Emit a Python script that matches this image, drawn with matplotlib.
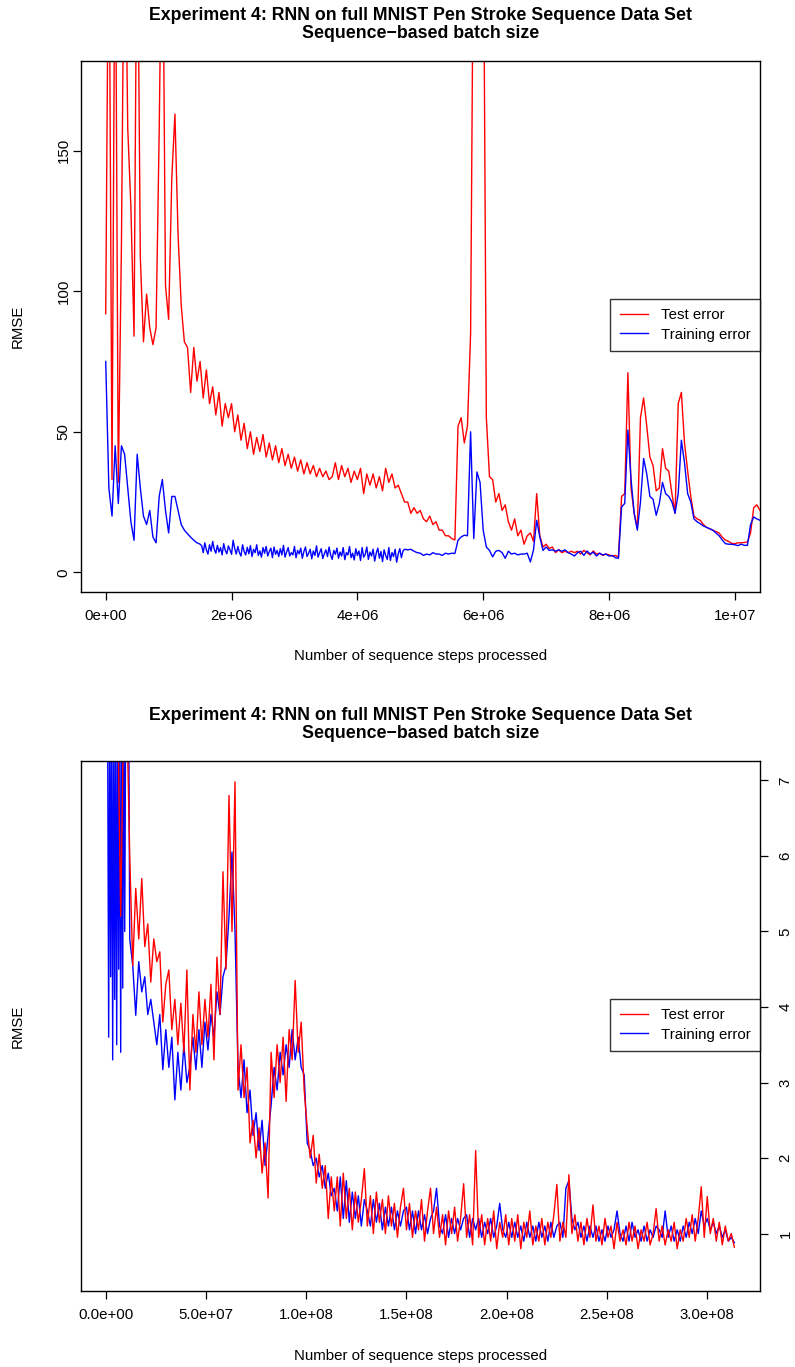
import numpy as np
import matplotlib
matplotlib.use("Agg")
import matplotlib.pyplot as plt
from matplotlib.lines import Line2D

plt.rcParams['font.family'] = ['Liberation Sans', 'DejaVu Sans']

TITLE_1 = "Experiment 4: RNN on full MNIST Pen Stroke Sequence Data Set"
TITLE_2 = "Sequence\u2212based batch size"
XLABEL = "Number of sequence steps processed"
YLABEL = "RMSE"
LEGEND = ["Test error", "Training error"]

# ---------------- top panel (steps up to ~1.04e7) ----------------
# test error: 0 .. 1.04e7, evenly spaced samples
top_test = [
    92, 250, 33, 250, 32, 117, 250, 158, 130, 84,
    250, 112, 82, 99, 87, 81, 87, 157, 250, 102,
    90, 140, 163, 120, 95, 82, 80, 64, 80, 68,
    75, 62, 72, 60, 66, 56, 64, 52, 60, 55,
    60, 50, 56, 47, 53, 44, 50, 42, 48, 43,
    49, 41, 46, 40, 45, 39, 44, 38, 42, 37,
    41, 36, 40, 35, 39, 35, 38, 34, 37, 34,
    36, 33, 34, 39, 33, 38, 34, 37, 32, 36,
    33, 37, 28, 35, 31, 35, 30, 34, 29, 37,
    32, 35, 30, 31, 28, 25, 25, 21, 23, 21,
    22, 19, 18, 20, 17, 18, 15, 15, 13, 13,
    12, 11.5, 52, 55, 46, 52, 85, 250, 250, 250,
    250, 55, 34, 33, 25, 28, 22, 24, 18, 15,
    19, 13, 15, 10, 13, 14, 11, 28, 13, 9,
    10, 8.5, 9, 7, 8, 7, 7.5, 7, 7.5, 7,
    7.5, 6.5, 7.8, 7, 6.2, 7.6, 6.5, 6.8, 6.0, 6.5,
    6.2, 5.8, 6.0, 5.5, 27, 28, 71, 30, 21, 15.6,
    55, 62, 52, 41, 38, 29, 30, 44, 37, 36,
    28, 21, 60, 64, 46, 36, 27, 20, 19, 18.5,
    17, 16, 15.5, 15, 14.5, 14, 12.5, 11.5, 11, 10.3,
    10.2, 10.5, 10.5, 10.6, 10.8, 14, 23, 24, 22,
]
# training error in three pieces: 0-1.5e6, 1.525e6-4.75e6 (dense noise), 4.8e6-1.04e7
top_train_a = [
    75, 30, 20, 45, 24.5, 45, 42, 30, 18, 11.4,
    42, 30, 20, 17, 22, 12.6, 10.5, 27, 33, 22,
    14, 27, 27, 22, 17, 15, 13.7, 12.5, 11.4, 10.5,
    10,
]
top_train_b = [
    9.5, 7, 10.5, 8, 6.5, 9.8, 7.5, 11, 8.2, 6.8,
    9.6, 7.2, 8.8, 6.2, 10.2, 7.8, 6.6, 9.4, 8, 6.4,
    11.4, 8.5, 6.5, 9.2, 7, 5.8, 9.8, 7.4, 6.2, 8.9,
    6.6, 9.5, 5.6, 8.2, 7, 9.8, 6, 7.6, 5.4, 8.8,
    6.8, 9.2, 5.8, 7.4, 8.6, 5.2, 9, 6.4, 7.8, 5.6,
    8.4, 6.2, 9.6, 5.4, 7.2, 8.8, 5.8, 7, 6.2, 9.2,
    5.2, 7.8, 6.6, 8.6, 5, 7.4, 9, 5.6, 6.8, 8.2,
    4.8, 7.6, 6, 9.4, 5.4, 7, 8.4, 4.9, 6.6, 8,
    5.6, 9, 6.2, 4.6, 7.8, 6.4, 8.6, 5, 7.2, 5.8,
    8.8, 4.5, 7, 6.2, 9.2, 5.2, 6.8, 4.4, 8.4, 6,
    7.6, 4.2, 8.8, 5.4, 6.4, 9, 4.6, 7.2, 5.8, 8.2,
    4, 6.8, 8.6, 5, 7.4, 3.8, 8, 6, 4.6, 8.8,
    4.2, 7, 5.6, 8.2, 3.6, 6.6, 8.4, 5.2, 7.6, 8.2,
]
top_train_c = [
    8, 8.2, 7.5, 7,
    6.8, 6, 6.5, 6.2, 7, 6.5, 6.5, 6, 6.8, 6.5,
    6.8, 6.7, 11.4, 12.6, 13.2, 13, 50, 12, 35.7, 32,
    15, 9, 7.8, 5.5, 7.5, 7.8, 7, 5, 7.5, 6.5,
    6.8, 6.2, 6.5, 6.5, 6.8, 3.7, 8, 18.5, 12.6, 7.8,
    9, 7.8, 8, 7.5, 8, 7.5, 8, 7, 6.5, 5.8,
    7, 7.5, 6, 7.6, 6.5, 7.2, 5.8, 6.8, 6.2, 6.5,
    5.8, 6, 5.2, 5, 23.3, 24.5, 50.6, 33, 21, 15,
    25, 40.5, 35, 27, 26, 20.3, 24.5, 32, 28, 27,
    25, 21, 28, 47, 39, 28, 25, 19, 18, 17.3,
    16.5, 16, 15.5, 15, 14, 13, 11.5, 10.2, 10, 10,
    9.8, 9.5, 10, 9.6, 9.6, 17, 19.7, 19, 18.5,
]
top_test_span = (0.0, 10.40e6)
top_train_spans = [(0.0, 1.50e6), (1.525e6, 4.75e6), (4.80e6, 10.40e6)]
top_xticks = [0, 2e6, 4e6, 6e6, 8e6, 1e7]
top_xticklabels = ["0e+00", "2e+06", "4e+06", "6e+06", "8e+06", "1e+07"]
top_yticks = [0, 50, 100, 150]

# ---------------- bottom panel (steps up to ~3.135e8) ----------------
bot_test = [
    8, 8, 8, 8, 8, 5.2, 8, 8, 6.0, 4.55,
    5.57, 4.9, 5.7, 4.8, 5.1, 4.33, 4.9, 4.6, 4.73, 3.8,
    4.3, 4.49, 3.7, 4.1, 3.5, 4.05, 3.4, 4.49, 2.9, 3.9,
    3.4, 4.2, 3.5, 4.1, 3.6, 4.3, 3.3, 4.66, 3.9, 5.79,
    4.5, 6.8, 5.0, 6.98, 2.9, 3.5, 2.8, 3.2, 2.2, 2.5,
    2.0, 2.4, 1.8, 2.2, 1.47, 3.4, 2.8, 3.5, 3.0, 3.6,
    2.75, 3.7, 3.3, 4.35, 3.4, 3.8, 2.9, 2.4, 2.0, 2.3,
    1.67, 2.05, 1.6, 1.9, 1.2, 1.75, 1.3, 1.75, 1.1, 1.8,
    1.2, 1.6, 1.05, 1.55, 1.15, 1.45, 1.86, 1.1, 1.5, 1.0,
    1.55, 1.15, 1.45, 1.0, 1.5, 1.1, 1.4, 0.95, 1.35, 1.6,
    1.05, 1.4, 0.95, 1.3, 1.05, 1.45, 0.9, 1.3, 1.6, 1.0,
    1.35, 0.95, 1.25, 0.85, 1.3, 1.0, 1.35, 0.9, 1.2, 1.66,
    0.95, 1.25, 0.85, 2.1, 0.95, 1.25, 0.85, 1.2, 0.9, 1.3,
    0.8, 1.15, 0.95, 1.25, 0.85, 1.2, 0.9, 1.25, 0.8, 1.15,
    0.95, 1.3, 0.85, 1.1, 0.9, 1.2, 0.85, 1.15, 0.95, 1.25,
    1.65, 0.9, 1.15, 0.95, 1.78, 1.0, 1.25, 0.9, 1.15, 0.85,
    1.2, 0.95, 1.38, 0.9, 1.1, 0.85, 1.2, 0.95, 1.1, 0.8,
    1.15, 0.9, 1.05, 0.85, 1.15, 0.9, 1.1, 0.8, 1.05, 0.9,
    1.15, 0.85, 1.0, 1.33, 0.9, 1.1, 0.85, 1.05, 0.9, 1.15,
    0.8, 1.05, 0.9, 1.2, 0.95, 1.25, 0.9, 1.2, 1.62, 0.95,
    1.49, 1.0, 1.2, 0.9, 1.15, 0.85, 1.1, 0.9, 1.0, 0.82,
]
# training error: dense start (0-1.2e7) then 1.35e7-3.135e8
bot_train_a = [
    8, 8, 7.6, 3.6, 8, 4.4, 8, 3.3, 8, 4.1,
    8, 3.5, 8, 4.5, 8, 3.4, 8, 4.25, 8, 5,
    8, 8, 8, 8, 4.9,
]
bot_train_b = [
    4.55,
    3.89, 4.6, 4.2, 4.4, 3.9, 4.1, 3.8, 3.5, 3.9, 3.17,
    3.7, 3.2, 3.6, 2.77, 3.4, 2.9, 3.5, 3.0, 3.21, 3.6,
    3.17, 3.7, 3.2, 3.8, 3.43, 3.9, 3.6, 4.2, 3.9, 4.4,
    4.55, 5.2, 6.05, 5.0, 3.2, 2.8, 3.3, 2.6, 2.9, 2.3,
    2.6, 2.1, 2.5, 1.9, 2.3, 2.7, 3.2, 2.9, 3.4, 3.1,
    3.5, 3.2, 3.7, 3.3, 3.6, 3.2, 3.1, 2.2, 2.1, 1.9,
    2.0, 1.75, 1.9, 1.6, 1.8, 1.5, 1.6, 1.3, 1.75, 1.2,
    1.7, 1.15, 1.55, 1.2, 1.5, 1.1, 1.45, 1.3, 1.1, 1.45,
    1.15, 1.4, 1.05, 1.35, 1.1, 1.35, 1.05, 1.3, 1.1, 1.3,
    1.35, 1.05, 1.3, 1.0, 1.3, 1.05, 1.25, 1.0, 1.2, 1.3,
    1.6, 1.1, 1.0, 1.25, 0.95, 1.2, 1.0, 1.2, 1.05, 1.2,
    1.25, 0.95, 1.2, 1.05, 1.2, 0.95, 1.15, 1.0, 1.2, 0.95,
    1.1, 1.4, 1.05, 0.95, 1.15, 0.95, 1.15, 0.95, 1.1, 0.9,
    1.15, 0.95, 1.1, 0.9, 1.15, 0.95, 1.1, 0.9, 1.15, 0.95,
    1.1, 1.15, 0.95, 1.6, 1.7, 1.2, 1.05, 1.15, 0.95, 1.1,
    0.9, 1.1, 0.95, 1.1, 0.9, 1.05, 0.9, 1.1, 0.95, 1.05,
    1.3, 1.0, 0.9, 1.1, 0.9, 1.15, 0.95, 1.05, 0.9, 1.1,
    0.9, 1.05, 0.95, 1.1, 1.05, 0.95, 1.3, 0.95, 1.1, 0.9,
    1.05, 0.9, 1.1, 0.95, 1.15, 1.0, 1.2, 1.0, 1.3, 1.1,
    1.2, 1.05, 1.15, 1.0, 1.1, 0.95, 1.05, 0.9, 0.95, 0.88,
]
bot_test_span = (0.0, 3.135e8)
bot_train_spans = [(0.0, 1.2e7), (1.35e7, 3.135e8)]
bot_xticks = [0, 5e7, 1e8, 1.5e8, 2e8, 2.5e8, 3e8]
bot_xticklabels = ["0.0e+00", "5.0e+07", "1.0e+08", "1.5e+08", "2.0e+08", "2.5e+08", "3.0e+08"]
bot_yticks = [1, 2, 3, 4, 5, 6, 7]


def pieces(spans, parts):
    xs, ys = [], []
    for (a, b), vals in zip(spans, parts):
        xs.append(np.linspace(a, b, len(vals)))
        ys.append(np.asarray(vals, dtype=float))
    return np.concatenate(xs), np.concatenate(ys)


W, H = 795, 1367
fig = plt.figure(figsize=(W / 100, H / 100), dpi=100)


def frac_axes(l, t, r, b):
    return fig.add_axes([l / W, 1 - b / H, (r - l) / W, (b - t) / H])


ax1 = frac_axes(81, 60.7, 760, 592)
ax2 = frac_axes(81, 760.7, 760, 1291)

FS = 10.8
LW = 1.0


def style(ax):
    for s in ax.spines.values():
        s.set_linewidth(1.0)
        s.set_color('black')
    ax.tick_params(direction='out', length=6, width=0.9, labelsize=FS, pad=6)


# top panel
xt = np.linspace(top_test_span[0], top_test_span[1], len(top_test))
xtr, ytr = pieces(top_train_spans, [top_train_a, top_train_b, top_train_c])
ax1.plot(xt, top_test, color='red', lw=LW)
ax1.plot(xtr, ytr, color='blue', lw=LW)
ax1.set_xlim(-0.393e6, 10.40e6)
ax1.set_ylim(-7, 182)
ax1.set_xticks(top_xticks)
ax1.set_xticklabels(top_xticklabels)
ax1.set_yticks(top_yticks)
style(ax1)
for lbl in ax1.get_yticklabels():
    lbl.set_rotation(90)
    lbl.set_va('center')
    lbl.set_ha('right')
ax1.tick_params(axis='y', pad=1.5)

# bottom panel
xb = np.linspace(bot_test_span[0], bot_test_span[1], len(bot_test))
xbr, ybr = pieces(bot_train_spans, [bot_train_a, bot_train_b])
ax2.plot(xbr, ybr, color='blue', lw=LW)
ax2.plot(xb, bot_test, color='red', lw=LW)
ax2.set_xlim(-1.23e7, 3.263e8)
ax2.set_ylim(0.24, 7.26)
ax2.set_xticks(bot_xticks)
ax2.set_xticklabels(bot_xticklabels)
ax2.yaxis.tick_right()
ax2.set_yticks(bot_yticks)
style(ax2)
for lbl in ax2.get_yticklabels():
    lbl.set_rotation(90)
    lbl.set_va('center')
    lbl.set_ha('left')
ax2.tick_params(axis='y', pad=7.5)

handles = [Line2D([], [], color='red', lw=LW), Line2D([], [], color='blue', lw=LW)]
for ax, top_frac in ((ax1, (592 - 299) / 531.3), (ax2, (1291 - 999) / 530.3)):
    leg = ax.legend(handles, LEGEND, loc='upper right', bbox_to_anchor=(1.0, top_frac),
                    fontsize=FS, frameon=True, fancybox=False, borderaxespad=0,
                    handlelength=1.9, handletextpad=0.85, borderpad=0.62,
                    labelspacing=0.36)
    leg.get_frame().set_edgecolor('black')
    leg.get_frame().set_linewidth(1.0)

cx = (81 + 760) / 2 / W
for t1, t2, xl_y in ((15, 33, 656), (716, 734, 1356)):
    fig.text(cx, 1 - t1 / H, TITLE_1, ha='center', va='center',
             fontsize=12.8, fontweight='bold')
    fig.text(cx, 1 - t2 / H, TITLE_2, ha='center', va='center',
             fontsize=12.8, fontweight='bold')
    fig.text(cx, 1 - xl_y / H, XLABEL, ha='center', va='center', fontsize=FS)

fig.text(18 / W, 1 - 326 / H, YLABEL, rotation=90, ha='center', va='center', fontsize=FS)
fig.text(18 / W, 1 - 1026 / H, YLABEL, rotation=90, ha='center', va='center', fontsize=FS)

fig.savefig("out.png", dpi=100)
